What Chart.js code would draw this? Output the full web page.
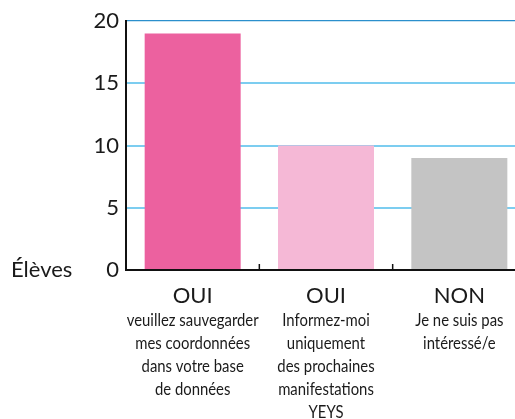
<!DOCTYPE html>
<html>
<head>
<meta charset="utf-8">
<script src="https://cdn.jsdelivr.net/npm/chart.js@4/dist/chart.umd.min.js"></script>
<style>
  html, body { margin: 0; padding: 0; background: #fff; overflow: hidden; }
  #wrap { width: 530px; height: 419px; }
</style>
</head>
<body>
<div id="wrap"><canvas id="chart" width="530" height="419"></canvas></div>
<script>
const answers = ["OUI", "OUI", "NON"];
const details = [
  ["veuillez sauvegarder", "mes coordonnées", "dans votre base", "de données"],
  ["Informez-moi", "uniquement", "des prochaines", "manifestations", "YEYS"],
  ["Je ne suis pas", "intéressé/e"]
];
const eleves = [19, 10, 9];
const barColors = ["#ec619f", "#f5b8d6", "#c4c4c4"];
const yTicks = [0, 5, 10, 15, 20];

const ink = "#1a1a1a";
const mainFont = "Lato, 'Noto Sans', sans-serif";

const labelsPlugin = {
  id: "labels",
  afterDraw(chart) {
    const { ctx, chartArea, scales: { x } } = chart;
    ctx.save();
    ctx.fillStyle = ink;
    ctx.textAlign = "center";
    ctx.textBaseline = "middle";
    answers.forEach((a, i) => {
      const cx = x.getPixelForValue(i);
      ctx.font = `22px ${mainFont}`;
      ctx.fillText(a, cx, chartArea.bottom + 26);
      ctx.font = `17.5px ${mainFont}`;
      details[i].forEach((line, j) => {
        // squeeze a bit to mimic the condensed face of the original
        const w = ctx.measureText(line).width * 0.85;
        ctx.fillText(line, cx, chartArea.bottom + 50 + j * 23, w);
      });
    });
    ctx.textAlign = "left";
    ctx.font = `22px ${mainFont}`;
    ctx.fillText("Élèves", 11, chartArea.bottom);
    // small tick marks between categories, pointing up
    ctx.strokeStyle = "#111";
    ctx.lineWidth = 1.5;
    for (let i = 1; i < answers.length; i++) {
      const bx = (x.getPixelForValue(i - 1) + x.getPixelForValue(i)) / 2;
      ctx.beginPath();
      ctx.moveTo(bx, chartArea.bottom);
      ctx.lineTo(bx, chartArea.bottom - 6);
      ctx.stroke();
    }
    ctx.restore();
  }
};

new Chart(document.getElementById("chart"), {
  type: "bar",
  data: {
    labels: answers,
    datasets: [{ data: eleves, backgroundColor: barColors, barPercentage: 0.72, categoryPercentage: 1 }]
  },
  options: {
    responsive: false,
    animation: false,
    layout: { padding: { top: 21, right: 4, left: 0, bottom: 0 } },
    plugins: { legend: { display: false }, tooltip: { enabled: false } },
    scales: {
      x: {
        afterFit: s => { s.height = 149; },
        ticks: { display: false },
        grid: { color: "transparent", drawTicks: false },
        border: { color: "#111", width: 2 }
      },
      y: {
        min: 0,
        max: 20,
        afterFit: s => { s.width = 126; },
        afterBuildTicks: s => { s.ticks = yTicks.map(v => ({ value: v })); },
        ticks: { color: ink, font: { size: 22, family: mainFont }, padding: 7 },
        grid: {
          drawTicks: false,
          color: c => c.tick.value === 0 ? "transparent" : (c.tick.value === 20 ? "#2b8fcc" : "#7ccdf0"),
          lineWidth: c => c.tick.value === 20 ? 1.3 : 2
        },
        border: { color: "#111", width: 2 }
      }
    }
  },
  plugins: [labelsPlugin]
});
</script>
</body>
</html>
